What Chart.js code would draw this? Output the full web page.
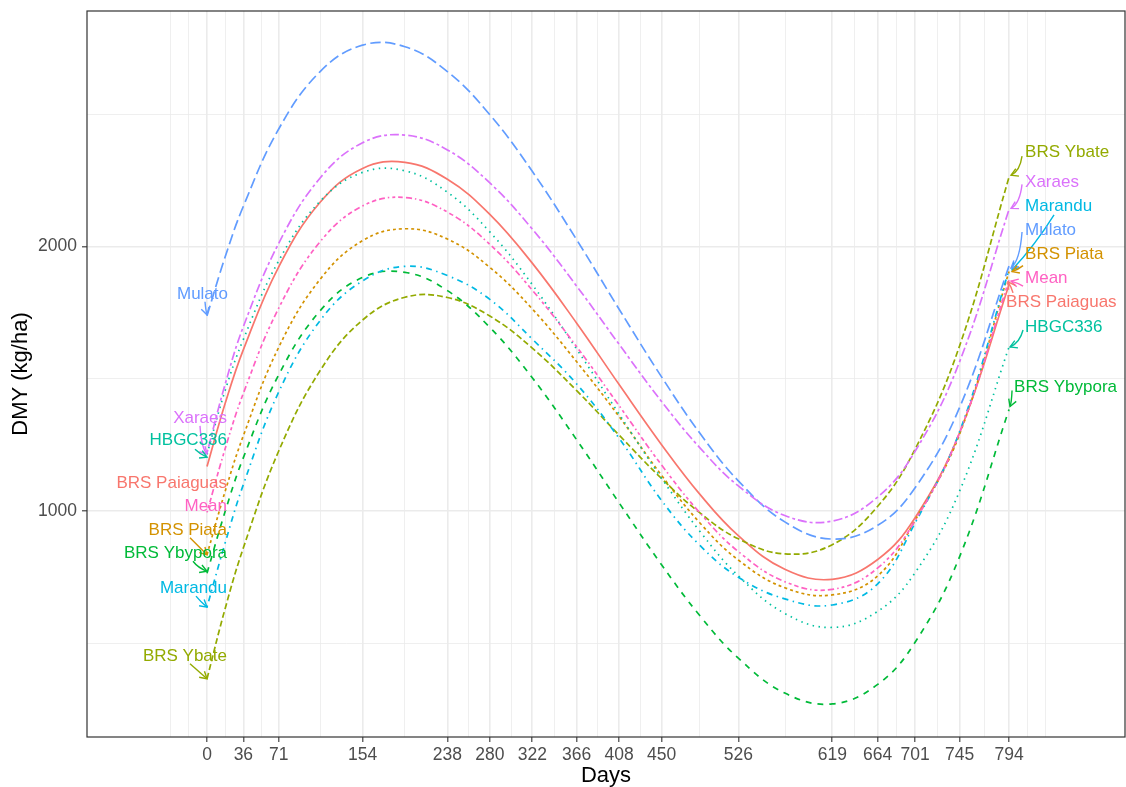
<!DOCTYPE html>
<html lang="en">
<head>
<meta charset="UTF-8">
<title>DMY por cultivar</title>
<style>
  html, body { margin: 0; padding: 0; background: #ffffff; }
  #contenedor { width: 1126px; height: 787px; }
</style>
</head>
<body>
<div id="contenedor"><canvas id="grafica" width="1126" height="787"></canvas></div>
<script src="https://cdn.jsdelivr.net/npm/chart.js"></script>
<script>
// dias de evaluacion y produccion de materia seca (kg/ha)
const days = [0, 18, 36, 71, 112, 154, 196, 238, 280, 322, 366, 408, 450, 488, 526, 572, 619, 664, 701, 745, 794];

const paiaguas = [1168, 1407, 1610, 1923, 2167, 2295, 2318, 2254, 2121, 1937, 1710, 1478, 1251, 1063, 907, 780, 742, 817, 975, 1296, 1855];
const piata    = [835, 1075, 1285, 1619, 1876, 2022, 2067, 2028, 1921, 1764, 1564, 1357, 1135, 955, 815, 710, 683, 755, 965, 1290, 1905];
const ybate    = [366, 632, 861, 1227, 1531, 1722, 1808, 1807, 1737, 1616, 1455, 1287, 1123, 993, 895, 838, 873, 1018, 1234, 1624, 2262];
const ybypora  = [765, 999, 1202, 1515, 1757, 1883, 1902, 1833, 1694, 1504, 1269, 1031, 797, 604, 444, 312, 271, 345, 504, 827, 1384];
const hbgc336  = [1215, 1456, 1649, 1946, 2171, 2280, 2286, 2205, 2055, 1856, 1612, 1366, 1124, 923, 755, 613, 560, 621, 767, 1075, 1620];
const marandu  = [637, 880, 1100, 1450, 1720, 1870, 1925, 1890, 1800, 1650, 1480, 1275, 1040, 870, 750, 668, 645, 725, 955, 1300, 1912];
const mulato   = [1738, 1961, 2152, 2444, 2661, 2761, 2755, 2661, 2498, 2284, 2025, 1763, 1507, 1294, 1114, 959, 894, 946, 1088, 1391, 1926];
const xaraes   = [1220, 1480, 1697, 2012, 2259, 2392, 2421, 2365, 2240, 2066, 1850, 1630, 1414, 1239, 1095, 983, 962, 1053, 1226, 1564, 2140];
const mean     = [995, 1236, 1445, 1767, 2018, 2153, 2185, 2130, 2008, 1835, 1621, 1398, 1174, 993, 847, 733, 704, 785, 964, 1296, 1873];

// cortes de los ejes
const xBreaks = [0, 36, 71, 154, 238, 280, 322, 366, 408, 450, 526, 619, 664, 701, 745, 794];
const yBreaks = [1000, 2000];

const xMin = -118.8, xMax = 908.8;
const yMin = 146, yMax = 2890;

const fuente = "'Liberation Sans', Arial, Helvetica, sans-serif";
const grosor = 1.7;
const unidad = 1.5;

// tipos de linea al estilo R (unidades del ancho de linea)
const series = [
  { nombre: 'BRS Paiaguas', valores: paiaguas, color: '#F8766D', lty: [] },
  { nombre: 'BRS Piata',    valores: piata,    color: '#D39200', lty: [2, 2] },
  { nombre: 'BRS Ybate',    valores: ybate,    color: '#93AA00', lty: [4, 2] },
  { nombre: 'BRS Ybypora',  valores: ybypora,  color: '#00BA38', lty: [4, 4] },
  { nombre: 'HBGC336',      valores: hbgc336,  color: '#00C19F', lty: [1, 3] },
  { nombre: 'Marandu',      valores: marandu,  color: '#00B9E3', lty: [1, 3, 4, 3] },
  { nombre: 'Mulato',       valores: mulato,   color: '#619CFF', lty: [7, 3] },
  { nombre: 'Xaraes',       valores: xaraes,   color: '#DB72FB', lty: [2, 2, 6, 2] },
  { nombre: 'Mean',         valores: mean,     color: '#FF61C3', lty: [1, 2, 2, 2, 3, 2, 4, 2] }
];

// etiquetas al inicio (izq) y al final (der): desplazamientos en px respecto al punto
const etiquetasIzq = [
  { nombre: 'Mulato',       dx: 21, dy: -21, flecha: [-2, -14, 0, -1], curva: 0.3 },
  { nombre: 'Xaraes',       dx: 20, dy: -35, flecha: [-7, -27, 0, 1], curva: 0.6 },
  { nombre: 'HBGC336',      dx: 20, dy: -14, flecha: [-12, -5, 0, 3], curva: 0.2 },
  { nombre: 'BRS Paiaguas', dx: 20, dy: 17, flecha: null },
  { nombre: 'Mean',         dx: 20, dy: -6, flecha: null },
  { nombre: 'BRS Piata',    dx: 20, dy: -24, flecha: [-17, -17, 0, 0], curva: 0 },
  { nombre: 'BRS Ybypora',  dx: 20, dy: -20, flecha: [-14, -12, 0, -2], curva: 0.3 },
  { nombre: 'Marandu',      dx: 20, dy: -19, flecha: [-11, -11, 0, 0], curva: 0.1 },
  { nombre: 'BRS Ybate',    dx: 20, dy: -22, flecha: [-17, -15, 0, 0], curva: 0 }
];
const etiquetasDer = [
  { nombre: 'BRS Ybate',    dx: 16, dy: -25, flecha: [13, -21, 2, -2], curva: 0.6 },
  { nombre: 'Xaraes',       dx: 16, dy: -27, flecha: [13, -25, 2, -1], curva: 0.6 },
  { nombre: 'Marandu',      dx: 16, dy: -63, flecha: [45, -55, 3, 0], curva: 0.1 },
  { nombre: 'Mulato',       dx: 16, dy: -36, flecha: [13, -34, 2, 2], curva: 0.6 },
  { nombre: 'BRS Piata',    dx: 16, dy: -17, flecha: [14, -6, 3, 0], curva: 0.2 },
  { nombre: 'Mean',         dx: 16, dy: -2, flecha: [14, 6, 2, 1], curva: 0.2 },
  { nombre: 'BRS Paiaguas', dx: -3, dy: 17, flecha: [4, 8, -1, -3], curva: 0.2 },
  { nombre: 'HBGC336',      dx: 16, dy: -20, flecha: [14, -17, 1, 0], curva: 0.5 },
  { nombre: 'BRS Ybypora',  dx: 5, dy: -22, flecha: [3, -19, 1, -3], curva: 0.5 }
];

// cortes menores como en ggplot: se extiende un paso a cada lado y se toman puntos medios
function cortesMenores(b, lo, hi) {
  const bd = b[1] - b[0];
  const ext = b.slice();
  if (lo < b[0]) ext.unshift(b[0] - bd);
  if (hi > b[b.length - 1]) ext.push(b[b.length - 1] + bd);
  const out = [];
  for (let i = 0; i < ext.length - 1; i++) {
    out.push(ext[i], (ext[i] + ext[i + 1]) / 2);
  }
  out.push(ext[ext.length - 1]);
  return out.filter(v => v >= lo && v <= hi);
}
const xTicks = cortesMenores(xBreaks, xMin, xMax);
const yTicks = cortesMenores(yBreaks, yMin, yMax);

function esMayor(lista, c) {
  return c.tick && lista.includes(c.tick.value);
}

const datasets = series.map((s, i) => ({
  label: s.nombre,
  data: days.map((d, j) => ({ x: d, y: s.valores[j] })),
  borderColor: s.color,
  borderWidth: grosor,
  borderDash: s.lty.map(u => u * unidad),
  borderCapStyle: 'butt',
  pointRadius: 0,
  fill: false,
  tension: 0.4,
  order: series.length - 1 - i
}));

function flecha(ctx, x0, y0, x1, y1, curva) {
  const cx = x0 + (x1 - x0) * (0.5 - curva * 0.5);
  const cy = y0 + (y1 - y0) * (0.5 + curva * 0.5);
  ctx.beginPath();
  ctx.moveTo(x0, y0);
  ctx.quadraticCurveTo(cx, cy, x1, y1);
  ctx.stroke();
  const ang = Math.atan2(y1 - cy, x1 - cx);
  const L = 8, a = Math.PI / 6;
  ctx.beginPath();
  ctx.moveTo(x1 - L * Math.cos(ang - a), y1 - L * Math.sin(ang - a));
  ctx.lineTo(x1, y1);
  ctx.lineTo(x1 - L * Math.cos(ang + a), y1 - L * Math.sin(ang + a));
  ctx.stroke();
}

const pluginEtiquetas = {
  id: 'etiquetas',
  afterDatasetsDraw(chart) {
    const ctx = chart.ctx;
    const sx = chart.scales.x, sy = chart.scales.y;
    ctx.save();
    ctx.font = '17px ' + fuente;
    ctx.textBaseline = 'middle';
    ctx.lineWidth = 1.4;
    const dibujar = (lista, idx, alinear) => {
      lista.forEach(e => {
        const s = series.find(t => t.nombre === e.nombre);
        const px = sx.getPixelForValue(days[idx]);
        const py = sy.getPixelForValue(s.valores[idx]);
        ctx.fillStyle = s.color;
        ctx.strokeStyle = s.color;
        ctx.textAlign = alinear;
        ctx.fillText(e.nombre, px + e.dx, py + e.dy);
        if (e.flecha) {
          const f = e.flecha;
          flecha(ctx, px + f[0], py + f[1], px + f[2], py + f[3], e.curva);
        }
      });
    };
    dibujar(etiquetasIzq, 0, 'right');
    dibujar(etiquetasDer, days.length - 1, 'left');
    ctx.restore();
  },
  afterDraw(chart) {
    const ctx = chart.ctx;
    const a = chart.chartArea;
    ctx.save();
    ctx.strokeStyle = '#333333';
    ctx.lineWidth = 1.2;
    ctx.strokeRect(a.left, a.top, a.right - a.left, a.bottom - a.top);
    // titulos de los ejes
    ctx.fillStyle = '#000000';
    ctx.font = '22px ' + fuente;
    ctx.textAlign = 'center';
    ctx.textBaseline = 'middle';
    ctx.fillText('Days', (a.left + a.right) / 2, 776);
    ctx.translate(21, (a.top + a.bottom) / 2);
    ctx.rotate(-Math.PI / 2);
    ctx.fillText('DMY (kg/ha)', 0, 0);
    ctx.restore();
  }
};

new Chart(document.getElementById('grafica').getContext('2d'), {
  type: 'line',
  data: { datasets: datasets },
  options: {
    responsive: false,
    animation: false,
    layout: { padding: { top: 11, right: 1, left: 0, bottom: 0 } },
    plugins: { legend: { display: false }, tooltip: { enabled: false } },
    scales: {
      x: {
        type: 'linear',
        min: xMin,
        max: xMax,
        afterBuildTicks: eje => { eje.ticks = xTicks.map(v => ({ value: v })); },
        afterFit: eje => { eje.height = 50; eje.paddingLeft = 0; eje.paddingRight = 0; },
        ticks: {
          autoSkip: false, maxRotation: 0, minRotation: 0, padding: 3,
          color: '#4D4D4D',
          font: { family: fuente, size: 17.5 },
          callback: v => xBreaks.includes(v) ? String(v) : ''
        },
        grid: {
          color: '#EBEBEB',
          lineWidth: c => esMayor(xBreaks, c) ? 1.6 : 0.8,
          tickColor: c => esMayor(xBreaks, c) ? '#333333' : 'rgba(0,0,0,0)',
          tickLength: 5,
          tickWidth: 1.1
        },
        border: { display: false }
      },
      y: {
        type: 'linear',
        min: yMin,
        max: yMax,
        afterBuildTicks: eje => { eje.ticks = yTicks.map(v => ({ value: v })); },
        afterFit: eje => { eje.width = 87; eje.paddingTop = 0; eje.paddingBottom = 0; },
        ticks: {
          padding: 5,
          color: '#4D4D4D',
          font: { family: fuente, size: 17.5 },
          callback: v => yBreaks.includes(v) ? String(v) : ''
        },
        grid: {
          color: '#EBEBEB',
          lineWidth: c => esMayor(yBreaks, c) ? 1.6 : 0.8,
          tickColor: c => esMayor(yBreaks, c) ? '#333333' : 'rgba(0,0,0,0)',
          tickLength: 5,
          tickWidth: 1.1
        },
        border: { display: false }
      }
    }
  },
  plugins: [pluginEtiquetas]
});
</script>
</body>
</html>
